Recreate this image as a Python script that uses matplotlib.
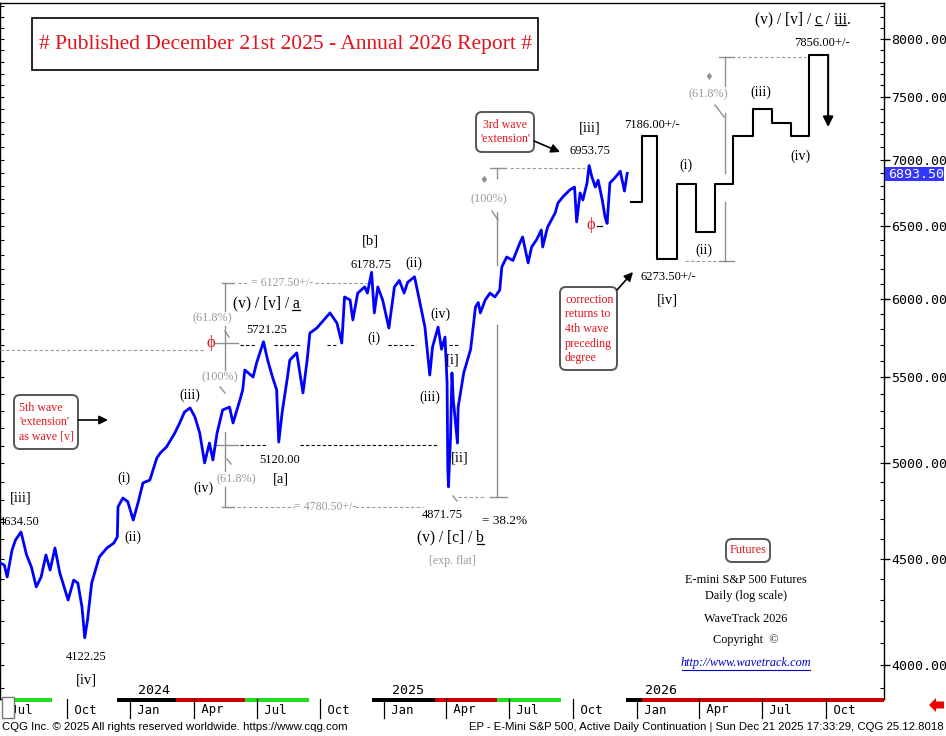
import matplotlib
matplotlib.use("Agg")
import matplotlib.pyplot as plt
import matplotlib.dates as mdates
from matplotlib.transforms import Affine2D, blended_transform_factory
from matplotlib.patches import Rectangle, FancyBboxPatch, Polygon
from matplotlib.lines import Line2D
from matplotlib.ticker import FixedLocator, NullFormatter, FixedFormatter
import pandas as pd
import numpy as np

# ---------------- data ----------------
price_dates = [
    '2023-06-27', '2023-07-03', '2023-07-07', '2023-07-14', '2023-07-19', '2023-07-27',
    '2023-08-04', '2023-08-11', '2023-08-18', '2023-08-25', '2023-09-01', '2023-09-07',
    '2023-09-14', '2023-09-21', '2023-10-03', '2023-10-11', '2023-10-17', '2023-10-23',
    '2023-10-27', '2023-10-31', '2023-11-06', '2023-11-17', '2023-11-28', '2023-12-08',
    '2023-12-13', '2023-12-14', '2023-12-21', '2023-12-28', '2024-01-05', '2024-01-12',
    '2024-01-19', '2024-01-29', '2024-02-08', '2024-02-13', '2024-02-22', '2024-03-05',
    '2024-03-12', '2024-03-19', '2024-03-27', '2024-04-03', '2024-04-10', '2024-04-17',
    '2024-04-24', '2024-04-29', '2024-05-05', '2024-05-13', '2024-05-23', '2024-05-28',
    '2024-06-07', '2024-06-11', '2024-06-14', '2024-06-26', '2024-07-01', '2024-07-11',
    '2024-07-17', '2024-07-24', '2024-07-30', '2024-08-02', '2024-08-07', '2024-08-14',
    '2024-08-18', '2024-08-28', '2024-09-06', '2024-09-12', '2024-09-16', '2024-09-26',
    '2024-10-15', '2024-10-25', '2024-11-01', '2024-11-05', '2024-11-13', '2024-11-17',
    '2024-11-24', '2024-12-04', '2024-12-08', '2024-12-14', '2024-12-18', '2024-12-23',
    '2024-12-30', '2025-01-08', '2025-01-16', '2025-01-23', '2025-01-30', '2025-02-04',
    '2025-02-14', '2025-02-21', '2025-03-01', '2025-03-08', '2025-03-12', '2025-03-20',
    '2025-03-25', '2025-03-30', '2025-04-02', '2025-04-03', '2025-04-04', '2025-04-07',
    '2025-04-09', '2025-04-11', '2025-04-17', '2025-04-18', '2025-04-26', '2025-05-06',
    '2025-05-13', '2025-05-17', '2025-05-20', '2025-05-27', '2025-06-03', '2025-06-10',
    '2025-06-17', '2025-06-20', '2025-06-27', '2025-07-06', '2025-07-16', '2025-07-20',
    '2025-07-28', '2025-08-02', '2025-08-09', '2025-08-16', '2025-08-18', '2025-08-25',
    '2025-09-05', '2025-09-09', '2025-09-16', '2025-09-26', '2025-10-03', '2025-10-06',
    '2025-10-11', '2025-10-15', '2025-10-21', '2025-10-24', '2025-10-28', '2025-11-02',
    '2025-11-06', '2025-11-12', '2025-11-16', '2025-11-19', '2025-11-23', '2025-11-30',
    '2025-12-08', '2025-12-14', '2025-12-18',
]
price_values = [
    4478, 4467, 4409, 4542, 4593, 4634.50,
    4518, 4458, 4361, 4409, 4518, 4443,
    4553, 4429, 4298, 4394, 4380, 4265,
    4122.25, 4204, 4380, 4508, 4553, 4578,
    4609, 4765, 4812, 4793, 4696, 4788,
    4893, 4909, 5030, 5058, 5092, 5171,
    5229, 5293, 5317, 5264, 5171, 5003,
    5114, 5019, 5171, 5305, 5322, 5229,
    5364, 5424, 5545, 5502, 5588, 5721.25,
    5606, 5502, 5424, 5120.00, 5293, 5484,
    5606, 5651, 5406, 5606, 5777, 5809,
    5907, 5841, 5713, 6012, 5992, 5861,
    6038, 6079, 6038, 6178.75, 5907, 6079,
    5992, 5809, 6079, 6123, 6038, 6110,
    6148, 5992, 5815, 5514, 5688, 5815,
    5674, 5751, 5466, 4980, 4871.75, 5149,
    5527, 5364, 5114, 5322, 5527, 5674,
    5946, 5975, 5907, 5992, 6038, 6012,
    6058, 6215, 6284, 6260, 6382, 6425,
    6243, 6354, 6404, 6475, 6354, 6495,
    6598, 6671, 6716, 6768, 6790, 6533,
    6746, 6694, 6821, 6953.75, 6867, 6790,
    6842, 6694, 6569, 6522, 6821, 6859,
    6910, 6760, 6893.50,
]
last_price = 6893.50

proj_dates = ['2025-12-23', '2026-01-08', '2026-01-30', '2026-02-28', '2026-03-27', '2026-04-24',
              '2026-05-20', '2026-06-18', '2026-07-15', '2026-08-11', '2026-09-06', '2026-10-04']
proj_levels = [6680, 7186.00, 6273.50, 6810, 6460, 6810, 7186, 7400, 7290, 7186, 7856.00]
proj_arrow_target = 7257

y_ticks = [4000, 4500, 5000, 5500, 6000, 6500, 7000, 7500, 8000]
y_minor = list(range(3900, 8400, 100))

quarter_starts = ['2023-07-01', '2023-10-01', '2024-01-01', '2024-04-01', '2024-07-01', '2024-10-01',
                  '2025-01-01', '2025-04-01', '2025-07-01', '2025-10-01', '2026-01-01', '2026-04-01',
                  '2026-07-01', '2026-10-01']
quarter_labels = ['Jul', 'Oct', 'Jan', 'Apr', 'Jul', 'Oct', 'Jan', 'Apr', 'Jul', 'Oct', 'Jan', 'Apr', 'Jul', 'Oct']
year_starts = ['2024-01-01', '2025-01-01', '2026-01-01']
year_labels = ['2024', '2025', '2026']

band_starts = ['2023-07-18', '2023-09-10', '2023-12-12', '2024-03-07', '2024-06-15', '2024-09-14',
               '2024-12-15', '2025-03-16', '2025-06-13', '2025-09-13', '2025-12-16', '2026-01-09',
               '2026-12-24']
band_colors = ['#22dd22', 'white', 'black', '#d00000', '#22dd22', 'white',
               'black', '#d00000', '#22dd22', 'white', 'black', '#d00000']

# ---------------- layout ----------------
W, H = 946, 736
SERIF = ['Liberation Serif', 'DejaVu Serif']
MONO = ['DejaVu Sans Mono']
SANS = ['Liberation Sans', 'DejaVu Sans']
RED = '#e3121b'
GRAY = '#8f8f8f'
LGRAY = '#9a9a9a'

fig = plt.figure(figsize=(W / 100, H / 100), dpi=100)
fig.patch.set_facecolor('white')
AXL, AXR, AXT, AXB = 0, 884, 3, 699
ax = fig.add_axes([AXL / W, 1 - AXB / H, (AXR - AXL) / W, (AXB - AXT) / H])
TP = Affine2D().scale(1 / W, -1 / H).translate(0, 1) + fig.transFigure
BX = blended_transform_factory(ax.transData, TP)

day0 = mdates.date2num(pd.Timestamp('2023-07-01'))
PXD = 0.6928
ax.set_xlim(day0 + (AXL - 3) / PXD, day0 + (AXR - 3) / PXD)
ax.set_yscale('log')
ax.set_ylim(8000 * np.exp(-(AXB - 39) / 903), 8000 * np.exp((39 - AXT) / 903))


def dn(s):
    return mdates.date2num(pd.to_datetime(s))


# price line
ax.plot(dn(price_dates), price_values, color='#0000ff', lw=2.0, zorder=5)

# projection path
px = dn(proj_dates)
ax.step(px, proj_levels + [proj_levels[-1]], where='post', color='black', lw=1.5, zorder=6)
ax.annotate('', xy=(px[-1], proj_arrow_target), xytext=(px[-1], proj_levels[-1]),
            arrowprops=dict(arrowstyle='-|>', color='black', lw=1.5, mutation_scale=15,
                            shrinkA=0, shrinkB=0), zorder=6)

# axes styling
for sp in ax.spines.values():
    sp.set_color('black')
    sp.set_linewidth(1.0)
ax.set_xticks([])
ax.yaxis.set_major_locator(FixedLocator(y_ticks))
ax.yaxis.set_major_formatter(FixedFormatter(['%.2f' % v for v in y_ticks]))
ax.yaxis.set_minor_locator(FixedLocator(y_minor))
ax.yaxis.set_minor_formatter(NullFormatter())
ax.yaxis.remove_overlapping_locs = False
ax.tick_params(axis='y', which='major', direction='out', length=4, width=1, left=False, right=True,
               labelleft=False, labelright=True, pad=1, labelsize=9.6)
ax.tick_params(axis='y', which='minor', direction='in', length=3, width=0.8, left=True, right=True)
for lab in ax.get_yticklabels():
    lab.set_family(MONO)


def T(x, y, s, size=10, color='black', ha='center', va='center', fam=SERIF, **kw):
    return ax.text(x, y, s, transform=TP, fontsize=size, color=color, ha=ha, va=va,
                   family=fam, clip_on=False, zorder=8, **kw)


def L(xs, ys, color='black', lw=1.0, ls='-', z=4):
    ax.add_line(Line2D(xs, ys, transform=TP, color=color, lw=lw, ls=ls, clip_on=False, zorder=z))


DASH = (0, (3, 2))

# ---- title box ----
ax.add_patch(Rectangle((32, 18), 506, 52, transform=TP, facecolor='white',
                       edgecolor='black', lw=1.2, zorder=7, clip_on=False))
T(285, 44, '# Published December 21st 2025 - Annual 2026 Report #', size=15.5, color=RED)


def rbox(x0, y0, w, h):
    ax.add_patch(FancyBboxPatch((x0, y0), w, h, boxstyle='round,pad=0,rounding_size=6',
                                transform=TP, facecolor='white', edgecolor='#555555', lw=1.4,
                                zorder=7, clip_on=False))


def arrow(x1, y1, x2, y2):
    ax.annotate('', xy=(x2, y2), xytext=(x1, y1), xycoords=TP, textcoords=TP,
                arrowprops=dict(arrowstyle='-|>', color='black', lw=1.2, mutation_scale=13,
                                shrinkA=0, shrinkB=0), zorder=8)


# ---- left fib structure (x=225) ----
for a, b in [(283, 311), (326, 370), (432, 471), (487, 507)]:
    L([225, 225], [a, b], GRAY)
L([222, 234], [283, 283], GRAY); L([222, 234], [507, 507], GRAY)
L([215, 238], [343, 343], GRAY); L([215, 238], [445, 445], GRAY)
L([225, 229], [331, 337], GRAY); L([220, 225], [387, 393], GRAY); L([227, 231], [459, 464], GRAY)
L([238, 249], [283, 283], LGRAY, 0.8, DASH)
L([315, 367], [283, 283], LGRAY, 0.8, DASH)
T(282, 283, '= 6127.50+/-', size=8.6, color=LGRAY)
L([237, 294], [507, 507], LGRAY, 0.8, DASH)
L([355, 423], [507, 507], LGRAY, 0.8, DASH)
T(325, 507, '= 4780.50+/-', size=8.6, color=LGRAY)
L([0, 206], [350, 350], LGRAY, 0.8, DASH)
T(212, 318, '(61.8%)', size=8.8, color=LGRAY)
T(220, 377, '(100%)', size=8.8, color=LGRAY)
T(236, 479, '(61.8%)', size=8.8, color=LGRAY)
T(211, 343, '\u03d5', size=12, color=RED)
for a, b in [(240, 256), (274, 302), (327, 338), (388, 416), (449, 459)]:
    L([a, b], [345, 345], 'black', 0.8, DASH)
for a, b in [(240, 266), (300, 437)]:
    L([a, b], [445, 445], 'black', 0.8, DASH)

# ---- middle fib (x=497) ----
for a, b in [(168, 178), (212, 265), (325, 497)]:
    L([497, 497], [a, b], GRAY)
L([490, 506], [168, 168], GRAY); L([490, 507], [497, 497], GRAY)
L([510, 585], [168, 168], LGRAY, 0.8, DASH)
L([458, 486], [497, 497], LGRAY, 0.8, DASH)
L([492, 498], [211, 220], GRAY)
T(484, 180, '\u2666', size=7, color=GRAY, fam=['DejaVu Sans'])
T(489, 199, '(100%)', size=8.8, color=LGRAY)
L([453, 457], [496, 501], GRAY)

# ---- right fib (x=725) ----
for a, b in [(57, 86), (113, 173), (202, 261)]:
    L([725, 725], [a, b], GRAY)
L([719, 734], [57, 57], GRAY); L([719, 734], [261, 261], GRAY)
L([737, 806], [57, 57], LGRAY, 0.8, DASH)
L([685, 718], [261, 261], LGRAY, 0.8, DASH)
L([715, 724], [105, 117], GRAY)
T(709, 77, '\u2666', size=7, color=GRAY, fam=['DejaVu Sans'])
T(708, 94, '(61.8%)', size=8.8, color=LGRAY)

# ---- wave labels ----
WL = 10
BL = 10.5
PL = 9
T(21, 498, '[iii]', BL); T(19, 522, '4634.50', PL)
T(86, 657, '4122.25', PL); T(86, 680, '[iv]', BL)
T(124, 478, '(i)', WL); T(133, 537, '(ii)', WL)
T(190, 395, '(iii)', WL); T(203, 488, '(iv)', WL)
T(233, 303, '(v) / [v] / a', 11.2, ha='left')
L([292, 300], [310, 310], 'black', 0.9)
T(267, 330, '5721.25', PL)
T(280, 460, '5120.00', PL); T(281, 479, '[a]', BL)
T(370, 241, '[b]', BL); T(371, 265, '6178.75', PL)
T(414, 263, '(ii)', WL); T(374, 338, '(i)', WL)
T(440, 314, '(iv)', WL); T(430, 397, '(iii)', WL)
T(453, 360, '[i]', BL); T(460, 458, '[ii]', BL)
T(442, 515, '4871.75', PL); T(505, 521, '= 38.2%', 9.5)
T(417, 537, '(v) / [c] / b', 11.2, ha='left')
L([477, 484], [544, 544], 'black', 0.9)
T(452, 561, '[exp. flat]', 8.6, color=LGRAY)
T(590, 128, '[iii]', BL); T(590, 151, '6953.75', PL)
T(591, 225, '\u03d5', 12, color=RED)
L([597, 602], [226, 226], 'black', 0.9)
T(652, 125, '7186.00+/-', PL)
T(686, 165, '(i)', WL); T(704, 250, '(ii)', WL)
T(761, 92, '(iii)', WL); T(800, 156, '(iv)', WL)
T(668, 277, '6273.50+/-', PL); T(667, 300, '[iv]', BL)
T(822, 43, '7856.00+/-', PL)
T(755, 19, '(v) / [v] / c / iii.', 11.2, ha='left')
L([815, 822], [25, 25], 'black', 0.9)
L([836, 846], [25, 25], 'black', 0.9)

# ---- red comment boxes ----
rbox(14, 395, 64, 54)
T(19, 422, "5th wave\n'extension'\nas wave [v]", 8.6, color=RED, ha='left', linespacing=1.25)
arrow(78, 420, 108, 420)
rbox(476, 112, 58, 40)
T(505, 132, "3rd wave\n'extension'", 8.6, color=RED, linespacing=1.25)
arrow(534, 141, 560, 152)
rbox(560, 287, 57, 83)
T(565, 329, "correction\nreturns to\n4th wave\npreceding\ndegree", 8.6, color=RED, ha='left',
  linespacing=1.3)
arrow(617, 290, 633, 272)
rbox(726, 539, 44, 23)
T(748, 550, 'Futures', 8.8, color=RED)

# ---- info block ----
T(746, 580, 'E-mini S&P 500 Futures', 8.8)
T(746, 596, 'Daily (log scale)', 8.8)
T(746, 619, 'WaveTrack 2026', 8.8)
T(746, 640, 'Copyright  \u00a9', 8.8)
T(746, 663, 'http://www.wavetrack.com', 8.8, color='#0000cc', style='italic')
L([682, 810], [670, 670], '#0000cc', 0.8)

# ---- last price flag ----
ax.add_patch(Rectangle((885, 167), 59, 14, transform=TP, facecolor='#3434ff', edgecolor='none',
                       clip_on=False, zorder=9))
ax.text(888, 174.5, '%.2f' % last_price, transform=TP, fontsize=9.6, color='white', ha='left',
        va='center', family=MONO, clip_on=False, zorder=10)

# ---- time axis strip ----
for i, c in enumerate(band_colors):
    x0 = dn(band_starts[i]); x1 = dn(band_starts[i + 1])
    ax.add_patch(Rectangle((x0, 698), x1 - x0, 4, transform=BX, facecolor=c, edgecolor='none',
                           clip_on=False, zorder=9))
for q, lab in zip(quarter_starts, quarter_labels):
    x = dn(q)
    ax.add_line(Line2D([x, x], [699, 718], transform=BX, color='black', lw=0.9, clip_on=False, zorder=9))
    ax.text(x, 710, ' ' + lab, transform=BX, fontsize=8.8, family=MONO, ha='left', va='center',
            clip_on=False, zorder=9)
for q, lab in zip(year_starts, year_labels):
    ax.text(dn(q), 690, ' ' + lab, transform=BX, fontsize=9.6, family=MONO, ha='left', va='center',
            clip_on=False, zorder=9)
ax.add_patch(Rectangle((2, 697), 12, 21, transform=TP, facecolor='white', edgecolor='#777777',
                       lw=1, clip_on=False, zorder=10))
ax.add_patch(Polygon([(929, 705), (936, 698), (936, 701.5), (944, 701.5), (944, 708.5), (936, 708.5),
                      (936, 712)], closed=True, transform=TP, facecolor='#ee0000', edgecolor='none',
                     clip_on=False, zorder=10))

# ---- footer ----
fig.text(2, 727, 'CQG Inc. \u00a9 2025 All rights reserved worldwide. https://www.cqg.com', transform=TP,
         fontsize=8.2, family=SANS, ha='left', va='center')
fig.text(944, 727, 'EP - E-Mini S&P 500, Active Daily Continuation | Sun Dec 21 2025 17:33:29, CQG 25.12.8018',
         transform=TP, fontsize=8.2, family=SANS, ha='right', va='center')

fig.savefig('out.png', dpi=100, facecolor='white')
